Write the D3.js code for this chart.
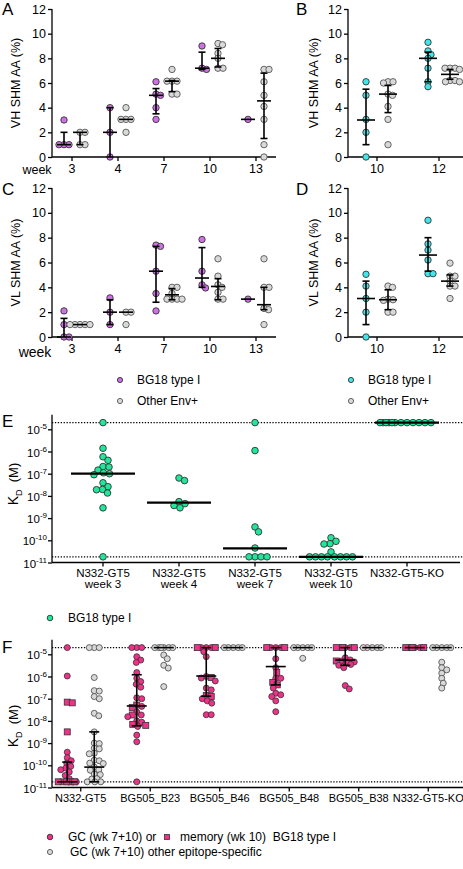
<!DOCTYPE html>
<html><head><meta charset="utf-8">
<script src="https://cdn.jsdelivr.net/npm/d3@7"></script>
<style>
body{margin:0;background:#fff}
svg{display:block}
text{font-family:"Liberation Sans",Arial,Helvetica,sans-serif;fill:#000}
</style>
</head><body>
<svg id="c" width="463" height="869"></svg>
<script>
// ---------------- DATA ----------------
const weeksAC = ["3","4","7","10","13"];
const weeksBD = ["10","12"];
const shmTicks = [0,2,4,6,8,10,12];

// Panel A  VH SHM AA (%)
const vhA_bg18  = [[3,1,1,1],[4,2,0],[6.1,5.1,5,4,3.05],[9,7.2,7.1],[3.05]];
const vhA_other = [[2,2,1,1],[4,3.05,3.05,3.05,2],[7.1,6.15,6.15,6.15,5.1,5.1],[9.2,9.1,8.4,8.0,7.2,7.2],[7.1,7.1,6.1,5,4.1,3.05,1,0]];
const vhA_bg18_med = [1,2,5,7.2,3.05], vhA_bg18_lo = [1,0,3.5,7.1,3.05], vhA_bg18_hi = [2,4,5.55,8.5,3.05];
const vhA_other_med = [2,3.05,6.15,8,4.55], vhA_other_lo = [1,3.05,5.3,7.3,1.5], vhA_other_hi = [2,3.05,6.2,8.8,6.8];

// Panel B
const vhB_bg18  = [[6.1,5,3.05,2,0],[9.3,8.6,8.3,8,7.2,6.1,5.7]];
const vhB_other = [[6.1,6.1,6.0,5.1,5.0,4.1,3.05,1],[7.2,7.2,7.2,7.1,6.2,6.1,6.1,6.2]];
const vhB_bg18_med = [3,8], vhB_bg18_lo = [1,6.1], vhB_bg18_hi = [5.5,8.5];
const vhB_other_med = [5.1,6.7], vhB_other_lo = [3.6,6.3], vhB_other_hi = [5.8,7.1];

// Panel C  VL SHM AA (%)
const vlC_bg18  = [[2.1,1,0,0],[3.15,2,1],[7.4,7.3,5.3,3.5,2.1],[7.85,5.3,4.2,3.95],[3.05]];
const vlC_other = [[1,1,1,1,1],[2,2,1],[4,4,3.5,3.05,3.05,3.05,3.05],[6.3,4.9,4.2,4.0,3.6,3.05,3.05],[6.3,4,4,2.3,2.2,1]];
const vlC_bg18_med = [0,2,5.3,4.75,3.05], vlC_bg18_lo = [0,1,2.8,4.0,3.05], vlC_bg18_hi = [1.5,3,7.3,7.2,3.05];
const vlC_other_med = [1,2,3.4,4.07,2.6], vlC_other_lo = [1,2,3.0,3.0,2.2], vlC_other_hi = [1,2,3.9,4.7,4.0];

// Panel D
const vlD_bg18  = [[5.05,4.1,3.1,2,0],[9.4,7.5,7.0,6.2,5.1,5.1]];
const vlD_other = [[4.1,4.0,3.05,3.0,2.95,2.0,2.0],[5.95,4.9,4.9,4.5,4.1,4.1,3.1]];
const vlD_bg18_med = [3.1,6.6], vlD_bg18_lo = [1.0,5.3], vlD_bg18_hi = [4.5,8.0];
const vlD_other_med = [3.0,4.5], vlD_other_lo = [2.2,4.1], vlD_other_hi = [3.8,5.0];

// Panel E  KD (M)
const eCats = ["N332-GT5\nweek 3","N332-GT5\nweek 4","N332-GT5\nweek 7","N332-GT5\nweek 10","N332-GT5-KO"];
const eKD = [
  [2e-5,1.4e-6,5.8e-7,4e-7,2.1e-7,2e-7,1.45e-7,1.1e-7,1e-7,9e-8,3.9e-8,2.6e-8,1.95e-8,1.9e-8,1.35e-8,2.9e-9,1.8e-11],
  [6.4e-8,4.9e-8,5.5e-9,4.5e-9,3.7e-9,2.9e-9],
  [2e-5,1.1e-6,4e-10,2.4e-10,4.5e-11,1.8e-11,1.8e-11,1.8e-11,1.8e-11],
  [1.3e-10,9e-11,7e-11,6.8e-11,3e-11,1.8e-11,1.8e-11,1.8e-11,1.8e-11,1.8e-11,1.8e-11,1.8e-11,1.8e-11],
  [2e-5,2e-5,2e-5,2e-5,2e-5,2e-5,2e-5,2e-5,2e-5,2e-5,2e-5,2e-5]
];
const eMedian = [1e-7,5e-9,4.3e-11,1.8e-11,2e-5];
const kdLimits = [2e-5,1.8e-11];
const kdTicks = [1e-11,1e-10,1e-9,1e-8,1e-7,1e-6,1e-5];

// Panel F
const fCats = ["N332-GT5","BG505_B23","BG505_B46","BG505_B48","BG505_B38","N332-GT5-KO"];
const fGC = [
  [2e-5,1.05e-6,3.9e-10,2.2e-10,1.6e-10,1.25e-10,9e-11,7.5e-11,6.3e-11,5e-11,3.5e-11,2.5e-11,1.8e-11,1.8e-11,1.8e-11,1.8e-11,1.8e-11,1.8e-11],
  [2e-5,2e-5,2e-5,7.8e-6,5.5e-6,4.3e-6,1.5e-6,8.3e-7,5.9e-7,4.5e-7,3.3e-7,1.1e-7,1e-7,4.5e-8,2.5e-8,1.85e-8,1.55e-8,1e-8,8.7e-9,5.6e-9,2.3e-9,1.15e-9,1.8e-11],
  [2e-5,2e-5,2e-5,1.3e-5,7.8e-6,1e-6,8.5e-7,6.3e-7,3e-7,2.5e-7,1e-7,8e-8,6.3e-8,1.9e-8,1.9e-8],
  [2e-5,2e-5,2e-5,6.3e-6,2.5e-6,8.3e-7,8.3e-7,3e-7,1.75e-7,1.5e-7,1.25e-7,8e-8,2.6e-8],
  [2e-5,2e-5,2e-5,7e-6,5.6e-6,5e-6,4.5e-6,3.5e-6,3.2e-6,2.5e-6,3.9e-7,2.75e-7],
  [2e-5,2e-5,2e-5]
];
const fMemory = [
  [6.5e-8,7e-8,3.2e-9,1.8e-11,1.8e-11,1.8e-11,1.8e-11],
  [5.2e-8,4e-8,1.85e-8,7e-9,6.3e-9],
  [2e-5,2e-5,9e-7,1.4e-7,1.25e-7],
  [2e-5,2e-5,1.5e-6,5.4e-7,4.2e-7],
  [2e-5,2e-5,2e-5,5e-6,4e-6],
  [2e-5,2e-5,2e-5]
];
const fOther = [
  [2e-5,2e-5,2e-5,9e-7,2.3e-7,2.2e-7,1.25e-7,1e-7,2.2e-8,1.7e-8,3.2e-9,1e-9,9.5e-10,5.9e-10,5.5e-10,3.5e-10,3.3e-10,1.7e-10,1.6e-10,1.25e-10,1.2e-10,8.3e-11,6.3e-11,6e-11,4e-11,3.8e-11,2.5e-11,2.4e-11,1.8e-11,1.8e-11,1.8e-11],
  [2e-5,2e-5,2e-5,2e-5,2e-5,2e-5,9.3e-6,6.3e-6,3.2e-6,2.4e-6,3.5e-7],
  [2e-5,2e-5,2e-5,2e-5,2e-5],
  [2e-5,2e-5,2e-5,2e-5,2e-5,6.6e-6],
  [2e-5,2e-5,2e-5,2e-5,2e-5],
  [2e-5,2e-5,2e-5,2e-5,2e-5,4.4e-6,2.5e-6,2e-6,1.4e-6,8.3e-7,5e-7,3e-7]
];
const fBG18_med = [1.8e-11,4.7e-8,1.05e-6,2.8e-6,5.5e-6,2e-5];
const fBG18_lo  = [1.8e-11,6e-9,1.3e-7,4.2e-7,3.2e-6,2e-5];
const fBG18_hi  = [1.4e-10,1.2e-6,2e-5,2e-5,2e-5,2e-5];
const fOther_med = [8.3e-11,2e-5,2e-5,2e-5,2e-5,2e-5];
const fOther_lo  = [1.8e-11,2e-5,2e-5,2e-5,2e-5,2e-5];
const fOther_hi  = [3.2e-9,2e-5,2e-5,2e-5,2e-5,2e-5];

// ---------------- STYLE ----------------
const PURPLE="#d070e6", CYAN="#42e6ea", GREEN="#1fe89c", PINK="#ee3189", GREY="#d9d9d9";
const DARK="#333", GREYSTROKE="#555";

const svg = d3.select("#c");
svg.append("rect").attr("width",463).attr("height",869).attr("fill","#fff");

// beeswarm layout (horizontal spread of tied/near values), limited to +/- maxHalf
function swarm(vals, yFn, minDist, maxHalf){
  if(maxHalf===undefined) maxHalf=Infinity;
  const pts = vals.map(v=>({v, y:yFn(v.val !== undefined ? v.val : v)})).sort((a,b)=>a.y-b.y);
  const placed=[];
  const step=0.5;
  const ok=(c,p)=>placed.every(q=>{const dy=q.y-p.y, dx=q.x-c; return dx*dx+dy*dy >= minDist*minDist-1e-6;});
  for(const p of pts){
    let k=0, found=null;
    while(true){
      const c = k===0?0:(k%2===1? Math.ceil(k/2)*step : -Math.ceil(k/2)*step);
      if(Math.abs(c)>maxHalf) break;
      if(ok(c,p)){found=c;break;}
      k++;
    }
    if(found===null){
      let best=0, bestScore=-1;
      for(let c=-maxHalf;c<=maxHalf+1e-9;c+=0.5){
        let m=Infinity;
        placed.forEach(q=>{const dy=q.y-p.y, dx=q.x-c; m=Math.min(m,Math.sqrt(dx*dx+dy*dy));});
        if(m>bestScore){bestScore=m;best=c;}
      }
      found=best;
    }
    p.x=found;
    placed.push(p);
  }
  return pts;
}

function styleAxis(g){
  g.selectAll("path,line").attr("stroke","#000").attr("stroke-width",1.3);
}

function errBars(g, cx, y, med, lo, hi, mHalf, cHalf, w){
  g.append("line").attr("x1",cx).attr("x2",cx).attr("y1",y(lo)).attr("y2",y(hi)).attr("stroke","#000").attr("stroke-width",w);
  if(hi!==med) g.append("line").attr("x1",cx-cHalf).attr("x2",cx+cHalf).attr("y1",y(hi)).attr("y2",y(hi)).attr("stroke","#000").attr("stroke-width",w);
  if(lo!==med) g.append("line").attr("x1",cx-cHalf).attr("x2",cx+cHalf).attr("y1",y(lo)).attr("y2",y(lo)).attr("stroke","#000").attr("stroke-width",w);
  g.append("line").attr("x1",cx-mHalf).attr("x2",cx+mHalf).attr("y1",y(med)).attr("y2",y(med)).attr("stroke","#000").attr("stroke-width",w);
}

// ---------------- PANELS A-D ----------------
function shmPanel(p){
  const x = d3.scaleBand().domain(p.cats).range(p.xr);
  const y = d3.scaleLinear().domain([0,12]).range(p.yr);
  const g = svg.append("g");
  const ya = g.append("g").attr("transform",`translate(${p.ax},0)`)
    .call(d3.axisLeft(y).tickValues(shmTicks).tickSize(4).tickPadding(2).tickSizeOuter(0));
  ya.select(".domain").remove();
  ya.append("line").attr("x1",0).attr("x2",0).attr("y1",p.yr[0]).attr("y2",p.yr[1]);
  ya.selectAll("text").attr("font-size",12.5).attr("font-family","Liberation Sans, Arial, sans-serif").attr("fill","#000");
  styleAxis(ya);
  const xa = g.append("g").attr("transform",`translate(0,${p.yr[0]})`)
    .call(d3.axisBottom(x).tickSize(4).tickPadding(3).tickSizeOuter(0));
  xa.select(".domain").remove();
  xa.append("line").attr("x1",p.ax).attr("x2",p.xEnd).attr("y1",0).attr("y2",0);
  xa.selectAll("text").attr("font-size",12.5).attr("font-family","Liberation Sans, Arial, sans-serif").attr("fill","#000");
  styleAxis(xa);
  g.append("text").attr("transform",`translate(${p.tx},${(p.yr[0]+p.yr[1])/2}) rotate(-90)`)
    .attr("text-anchor","middle").attr("font-size",12.5).text(p.title);
  g.append("text").attr("x",p.lx).attr("y",p.ly).attr("font-size",17).text(p.letter);
  const series=[
    {vals:p.bg, med:p.bgMed, lo:p.bgLo, hi:p.bgHi, fill:p.color, stroke:DARK, off:-p.off},
    {vals:p.ot, med:p.otMed, lo:p.otLo, hi:p.otHi, fill:GREY, stroke:GREYSTROKE, off:p.off}
  ];
  const bw = x.bandwidth()/2;
  series.forEach(s=>{
    p.cats.forEach((c,i)=>{
      const cx = x(c)+bw+s.off;
      const pts = swarm(s.vals[i], y, 4.6);
      g.selectAll(null).data(pts).enter().append("circle")
        .attr("cx",d=>cx+d.x).attr("cy",d=>d.y).attr("r",3.2)
        .attr("fill",s.fill).attr("stroke",s.stroke).attr("stroke-width",0.9);
    });
  });
  series.forEach(s=>{
    p.cats.forEach((c,i)=>{
      const cx = x(c)+bw+s.off;
      errBars(g,cx,y,s.med[i],s.lo[i],s.hi[i],p.mHalf,3.5,1.6);
    });
  });
  return g;
}

shmPanel({cats:weeksAC, xr:[49,279], ax:52, xEnd:276, yr:[157,9], title:"VH SHM AA (%)", tx:20, letter:"A", lx:2, ly:15,
  bg:vhA_bg18, bgMed:vhA_bg18_med, bgLo:vhA_bg18_lo, bgHi:vhA_bg18_hi,
  ot:vhA_other, otMed:vhA_other_med, otLo:vhA_other_lo, otHi:vhA_other_hi, color:PURPLE, off:8, mHalf:7});
shmPanel({cats:weeksBD, xr:[346,470], ax:348, xEnd:463, yr:[157,9], title:"VH SHM AA (%)", tx:318, letter:"B", lx:296, ly:15,
  bg:vhB_bg18, bgMed:vhB_bg18_med, bgLo:vhB_bg18_lo, bgHi:vhB_bg18_hi,
  ot:vhB_other, otMed:vhB_other_med, otLo:vhB_other_lo, otHi:vhB_other_hi, color:CYAN, off:11, mHalf:9});
shmPanel({cats:weeksAC, xr:[49,279], ax:52, xEnd:276, yr:[337,188], title:"VL SHM AA (%)", tx:20, letter:"C", lx:2, ly:195,
  bg:vlC_bg18, bgMed:vlC_bg18_med, bgLo:vlC_bg18_lo, bgHi:vlC_bg18_hi,
  ot:vlC_other, otMed:vlC_other_med, otLo:vlC_other_lo, otHi:vlC_other_hi, color:PURPLE, off:8, mHalf:7});
shmPanel({cats:weeksBD, xr:[346,470], ax:348, xEnd:463, yr:[337,188], title:"VL SHM AA (%)", tx:318, letter:"D", lx:296, ly:195,
  bg:vlD_bg18, bgMed:vlD_bg18_med, bgLo:vlD_bg18_lo, bgHi:vlD_bg18_hi,
  ot:vlD_other, otMed:vlD_other_med, otLo:vlD_other_lo, otHi:vlD_other_hi, color:CYAN, off:11, mHalf:9});

svg.append("text").attr("x",37).attr("y",174).attr("text-anchor","middle").attr("font-size",12.5).text("week");
svg.append("text").attr("x",35).attr("y",357).attr("text-anchor","middle").attr("font-size",14).text("week");

// legend A-D
function legendDot(x,y,fill,stroke,r){
  svg.append("circle").attr("cx",x).attr("cy",y).attr("r",r).attr("fill",fill).attr("stroke",stroke).attr("stroke-width",0.9);
}
legendDot(120,380,PURPLE,DARK,2.6); svg.append("text").attr("x",137).attr("y",384).attr("font-size",12).text("BG18 type I");
legendDot(120,401,GREY,GREYSTROKE,2.6); svg.append("text").attr("x",137).attr("y",405).attr("font-size",12).text("Other Env+");
legendDot(351,380,CYAN,DARK,2.6); svg.append("text").attr("x",368).attr("y",384).attr("font-size",12).text("BG18 type I");
legendDot(351,401,GREY,GREYSTROKE,2.6); svg.append("text").attr("x",368).attr("y",405).attr("font-size",12).text("Other Env+");

// ---------------- KD axes ----------------
function kdAxis(g, y, ax, xEnd, bottom, top, kdCenter){
  const ya = g.append("g").attr("transform",`translate(${ax},0)`)
    .call(d3.axisLeft(y).tickValues(kdTicks).tickSize(4).tickFormat(""));
  ya.select(".domain").remove();
  ya.append("line").attr("x1",0).attr("x2",0).attr("y1",bottom).attr("y2",top);
  styleAxis(ya);
  kdTicks.forEach(v=>{
    const t = g.append("text").attr("x",ax-5).attr("y",y(v)+5).attr("text-anchor","end").attr("font-size",11.5);
    t.append("tspan").text("10");
    t.append("tspan").attr("dy",-5).attr("font-size",8).text(String(Math.round(Math.log10(v))));
  });
  g.append("line").attr("x1",ax).attr("x2",xEnd).attr("y1",bottom).attr("y2",bottom).attr("stroke","#000").attr("stroke-width",1.3);
  kdLimits.forEach(v=>{
    g.append("line").attr("x1",ax).attr("x2",463).attr("y1",y(v)).attr("y2",y(v))
      .attr("stroke","#000").attr("stroke-width",1.1).attr("stroke-dasharray","1.3,1.6");
  });
  const lab = g.append("text").attr("transform",`translate(18,${kdCenter}) rotate(-90)`).attr("text-anchor","middle").attr("font-size",14);
  lab.append("tspan").text("K");
  lab.append("tspan").attr("dy",4).attr("font-size",9).text("D");
  lab.append("tspan").attr("dy",-4).attr("font-size",13).text("\u00a0\u00a0(M)");
}

// ---------------- PANEL E ----------------
{
  const g = svg.append("g");
  const y = d3.scaleLog().domain([1e-11,4.5e-5]).range([562.5,414.8]);
  const x = d3.scaleBand().domain(eCats).range([65,445]);
  kdAxis(g,y,52,460,562.5,414.8,484);
  const bw=x.bandwidth()/2;
  eCats.forEach((c,i)=>{
    const cx=x(c)+bw;
    g.append("line").attr("x1",cx).attr("x2",cx).attr("y1",562.5).attr("y2",566.5).attr("stroke","#000").attr("stroke-width",1.3);
    const lines=c.split("\n");
    const t=g.append("text").attr("x",cx).attr("y",577).attr("text-anchor","middle").attr("font-size",11.5);
    lines.forEach((l,j)=>t.append("tspan").attr("x",cx).attr("dy",j?11:0).text(l));
    const pts=swarm(eKD[i],y,6,27);
    g.selectAll(null).data(pts).enter().append("circle")
      .attr("cx",d=>cx+d.x).attr("cy",d=>d.y).attr("r",3.3)
      .attr("fill",GREEN).attr("stroke",DARK).attr("stroke-width",0.9);
  });
  eCats.forEach((c,i)=>{
    const cx=x(c)+bw;
    g.append("line").attr("x1",cx-32).attr("x2",cx+32).attr("y1",y(eMedian[i])).attr("y2",y(eMedian[i]))
      .attr("stroke","#000").attr("stroke-width",2.2);
  });
  g.append("text").attr("x",2).attr("y",427).attr("font-size",17).text("E");
  legendDot(50,618,GREEN,DARK,2.8);
  g.append("text").attr("x",68).attr("y",622).attr("font-size",12).text("BG18 type I");
}

// ---------------- PANEL F ----------------
{
  const g = svg.append("g");
  const y = d3.scaleLog().domain([1e-11,4.5e-5]).range([787.5,639.8]);
  const x = d3.scaleBand().domain(fCats).range([46,463]);
  kdAxis(g,y,52,463,787.5,639.8,726);
  const bw=x.bandwidth()/2;
  fCats.forEach((c,i)=>{
    const cx=x(c)+bw;
    g.append("line").attr("x1",cx).attr("x2",cx).attr("y1",787.5).attr("y2",791.5).attr("stroke","#000").attr("stroke-width",1.3);
    g.append("text").attr("x",cx).attr("y",802).attr("text-anchor","middle").attr("font-size",11).text(c);
    const bgPts = fGC[i].map(v=>({val:v,shape:"c"})).concat(fMemory[i].map(v=>({val:v,shape:"s"})));
    const sp = swarm(bgPts,y,5,9);
    const px = cx-13.5;
    sp.forEach(d=>{
      if(d.v.shape==="c"){
        g.append("circle").attr("cx",px+d.x).attr("cy",d.y).attr("r",3)
          .attr("fill",PINK).attr("stroke",DARK).attr("stroke-width",0.8);
      } else {
        g.append("rect").attr("x",px+d.x-3).attr("y",d.y-3).attr("width",6).attr("height",6)
          .attr("fill",PINK).attr("stroke",DARK).attr("stroke-width",0.8);
      }
    });
    const op = swarm(fOther[i],y,5,9);
    const ox = cx+13.5;
    g.selectAll(null).data(op).enter().append("circle")
      .attr("cx",d=>ox+d.x).attr("cy",d=>d.y).attr("r",3)
      .attr("fill",GREY).attr("stroke",GREYSTROKE).attr("stroke-width",0.9);
  });
  fCats.forEach((c,i)=>{
    const cx=x(c)+bw;
    errBars(g,cx-13.5,y,fBG18_med[i],fBG18_lo[i],fBG18_hi[i],10,5,1.6);
    errBars(g,cx+13.5,y,fOther_med[i],fOther_lo[i],fOther_hi[i],10,5,1.6);
  });
  g.append("text").attr("x",2).attr("y",653).attr("font-size",17).text("F");
  legendDot(50,837,PINK,DARK,2.8);
  g.append("text").attr("x",68).attr("y",841).attr("font-size",12).text("GC (wk 7+10) or");
  g.append("rect").attr("x",164.5).attr("y",834.5).attr("width",5).attr("height",5).attr("fill",PINK).attr("stroke",DARK).attr("stroke-width",0.8);
  g.append("text").attr("x",180).attr("y",841).attr("font-size",12).text("memory (wk 10)\u00a0\u00a0BG18 type I");
  legendDot(50,852,GREY,GREYSTROKE,2.6);
  g.append("text").attr("x",70).attr("y",856).attr("font-size",12).text("GC (wk 7+10) other epitope-specific");
}
</script>
</body></html>
